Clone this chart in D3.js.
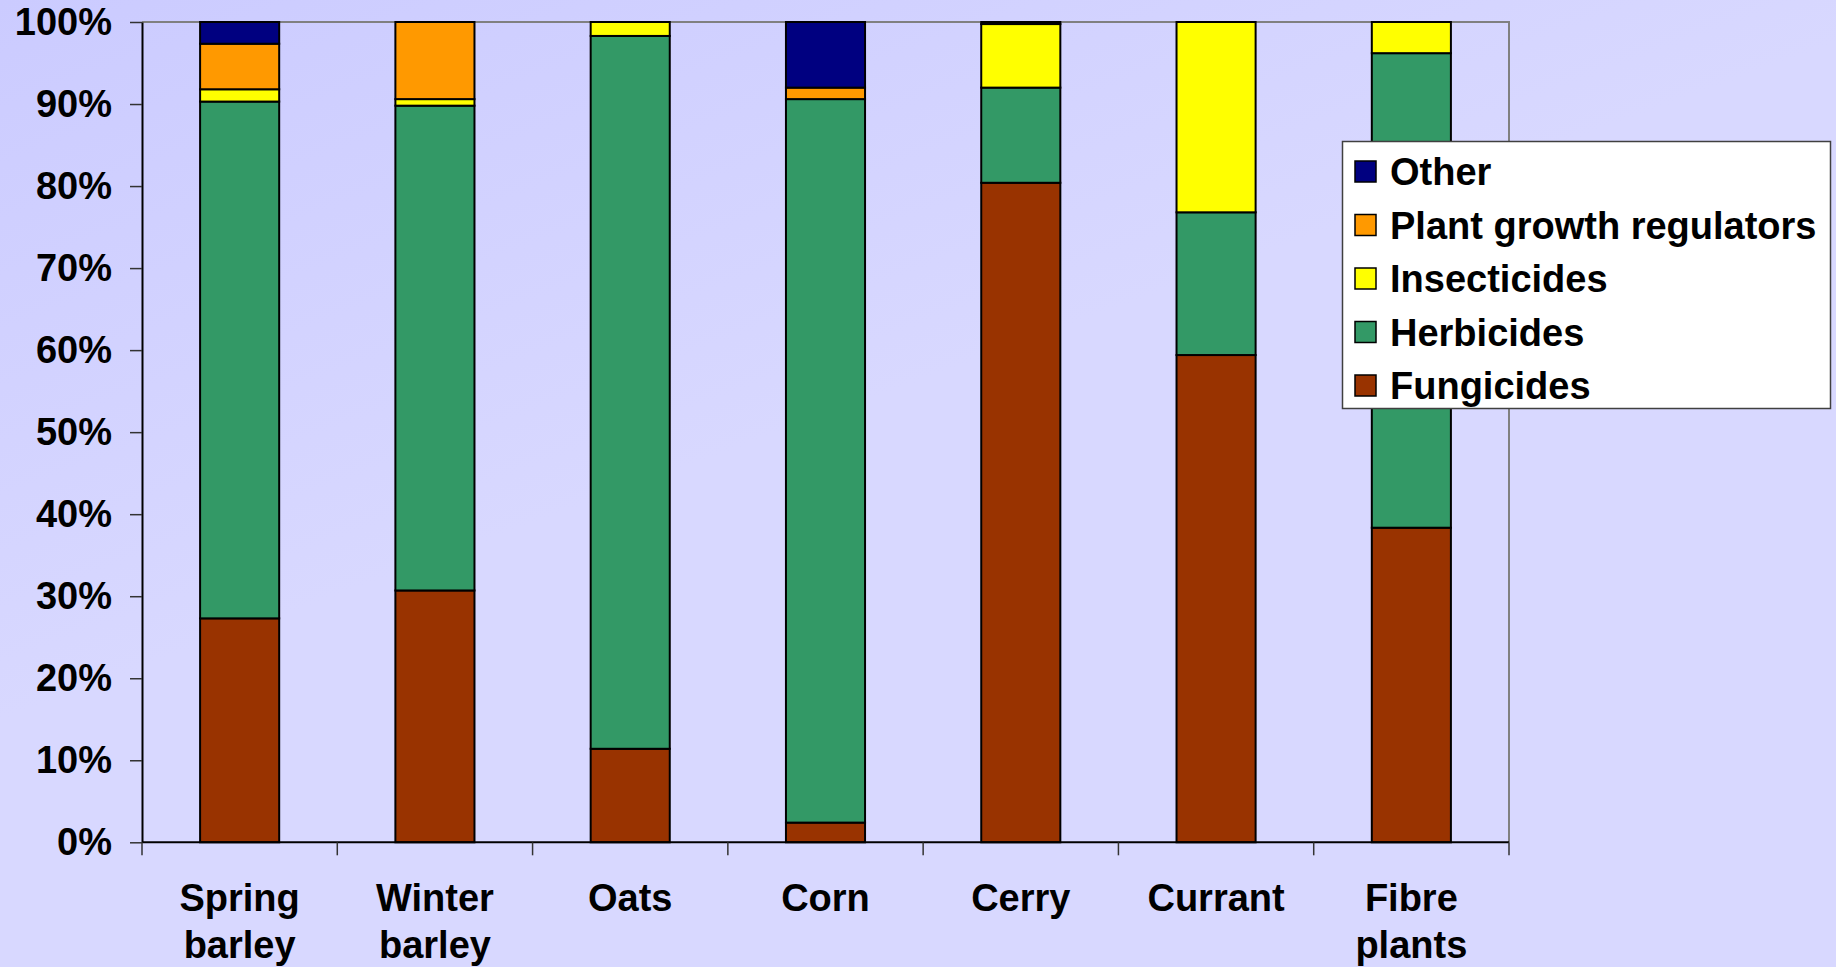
<!DOCTYPE html>
<html>
<head>
<meta charset="utf-8">
<script src="https://cdn.jsdelivr.net/npm/d3@7"></script>
<style>
  html, body { margin: 0; padding: 0; background: #d8d8ff; }
  svg { display: block; }
  text { font-family: "Liberation Sans", Arial, sans-serif; font-weight: bold; fill: #000; }
</style>
</head>
<body>
<svg id="chart" width="1836" height="967"></svg>
<script>
// Share of pesticide use by crop (percent of total, stacked to 100%)
const categories = ["Spring barley", "Winter barley", "Oats", "Corn", "Cerry", "Currant", "Fibre plants"];
const fungicides   = [27.3, 30.7, 11.4, 2.4, 80.4, 59.4, 38.35];
const herbicides   = [63.0, 59.1, 86.9, 88.2, 11.6, 17.4, 57.85];
const insecticides = [1.5, 0.8, 1.7, 0, 7.75, 23.2, 3.8];
const growthRegs   = [5.55, 9.4, 0, 1.4, 0, 0, 0];
const other        = [2.65, 0, 0, 8.0, 0.25, 0, 0];
const yTicks = [0, 10, 20, 30, 40, 50, 60, 70, 80, 90, 100];

// Series listed bottom-to-top in the stack
const seriesNames  = ["Fungicides", "Herbicides", "Insecticides", "Plant growth regulators", "Other"];
const seriesValues = [fungicides, herbicides, insecticides, growthRegs, other];
const seriesColors = ["#993300", "#339966", "#ffff00", "#ff9900", "#000080"];

const svg = d3.select("#chart");
const W = 1836, H = 967;
const plot = { left: 142, right: 1509, top: 22, bottom: 842.3 };

// soft background wash, a touch darker toward the upper left
const defs = svg.append("defs");
const grad = defs.append("linearGradient").attr("id", "bg")
  .attr("x1", "0").attr("y1", "0").attr("x2", "0.35").attr("y2", "0.5");
grad.append("stop").attr("offset", "0").attr("stop-color", "#cbcbff");
grad.append("stop").attr("offset", "1").attr("stop-color", "#d8d8ff");
svg.append("rect").attr("width", W).attr("height", H).attr("fill", "url(#bg)");

const rows = categories.map((c, i) => {
  const r = { category: c };
  seriesNames.forEach((s, k) => { r[s] = seriesValues[k][i]; });
  return r;
});
const stacked = d3.stack().keys(seriesNames)(rows);

const slot = d3.scaleBand().domain(categories).range([plot.left, plot.right]).padding(0);
const x = d3.scaleBand().domain(categories).range([plot.left, plot.right])
  .paddingInner(0.595).paddingOuter(0.2975);
const y = d3.scaleLinear().domain([0, 100]).range([plot.bottom, plot.top]);

// plot frame: grey top and right edges
svg.append("path")
  .attr("d", `M${plot.left},${y(100)}H${plot.right}V${plot.bottom}`)
  .attr("fill", "none").attr("stroke", "#808080").attr("stroke-width", 2);

// stacked bars
const layers = svg.append("g").selectAll("g").data(stacked).join("g")
  .attr("fill", (d, i) => seriesColors[i]);
layers.selectAll("rect")
  .data(d => d.filter(p => p[1] - p[0] > 0))
  .join("rect")
  .attr("x", d => x(d.data.category))
  .attr("width", x.bandwidth())
  .attr("y", d => y(d[1]))
  .attr("height", d => y(d[0]) - y(d[1]))
  .attr("stroke", "#000")
  .attr("stroke-width", 2);

// y axis
const yAxis = svg.append("g")
  .attr("transform", `translate(${plot.left},0)`)
  .call(d3.axisLeft(y).tickValues(yTicks).tickFormat(d => d + "%").tickSize(12).tickSizeOuter(0).tickPadding(18));
yAxis.select(".domain").attr("stroke", "#000").attr("stroke-width", 2);
yAxis.selectAll(".tick line").attr("stroke", "#333").attr("stroke-width", 1.5);
yAxis.selectAll(".tick text")
  .style("font-family", '"Liberation Sans", Arial, sans-serif')
  .style("font-weight", "bold").style("font-size", "38px").attr("fill", "#000");

// x axis baseline and category separators
svg.append("line")
  .attr("x1", plot.left).attr("x2", plot.right)
  .attr("y1", plot.bottom).attr("y2", plot.bottom)
  .attr("stroke", "#000").attr("stroke-width", 2);
const bounds = categories.map(c => slot(c)).concat([plot.right]);
svg.append("g").selectAll("line").data(bounds).join("line")
  .attr("x1", d => d).attr("x2", d => d)
  .attr("y1", plot.bottom).attr("y2", plot.bottom + 13)
  .attr("stroke", "#333").attr("stroke-width", 1.5);

// category labels, split over two lines
const catLabels = svg.append("g").selectAll("text").data(categories).join("text")
  .attr("text-anchor", "middle")
  .attr("font-size", 38)
  .attr("x", d => slot(d) + slot.bandwidth() / 2)
  .attr("y", 911);
catLabels.each(function (d) {
  const words = d.split(" ");
  const t = d3.select(this);
  words.forEach((w, i) => {
    t.append("tspan")
      .attr("x", slot(d) + slot.bandwidth() / 2)
      .attr("dy", i === 0 ? 0 : 47)
      .text(w);
  });
});

// legend (top series first)
const legend = svg.append("g");
legend.append("rect")
  .attr("x", 1342.5).attr("y", 141.5).attr("width", 488).attr("height", 267)
  .attr("fill", "#fff").attr("stroke", "#404040").attr("stroke-width", 1.5);
const legendItems = seriesNames.map((s, i) => ({ name: s, color: seriesColors[i] })).reverse();
const li = legend.selectAll("g.item").data(legendItems).join("g")
  .attr("class", "item")
  .attr("transform", (d, i) => `translate(1355, ${171.5 + i * 53.5})`);
li.append("rect")
  .attr("x", 0).attr("y", -10.5).attr("width", 21).attr("height", 21)
  .attr("fill", d => d.color).attr("stroke", "#000").attr("stroke-width", 1.5);
li.append("text")
  .attr("x", 35).attr("y", 13.5)
  .attr("font-size", 38)
  .text(d => d.name);
</script>
</body>
</html>
